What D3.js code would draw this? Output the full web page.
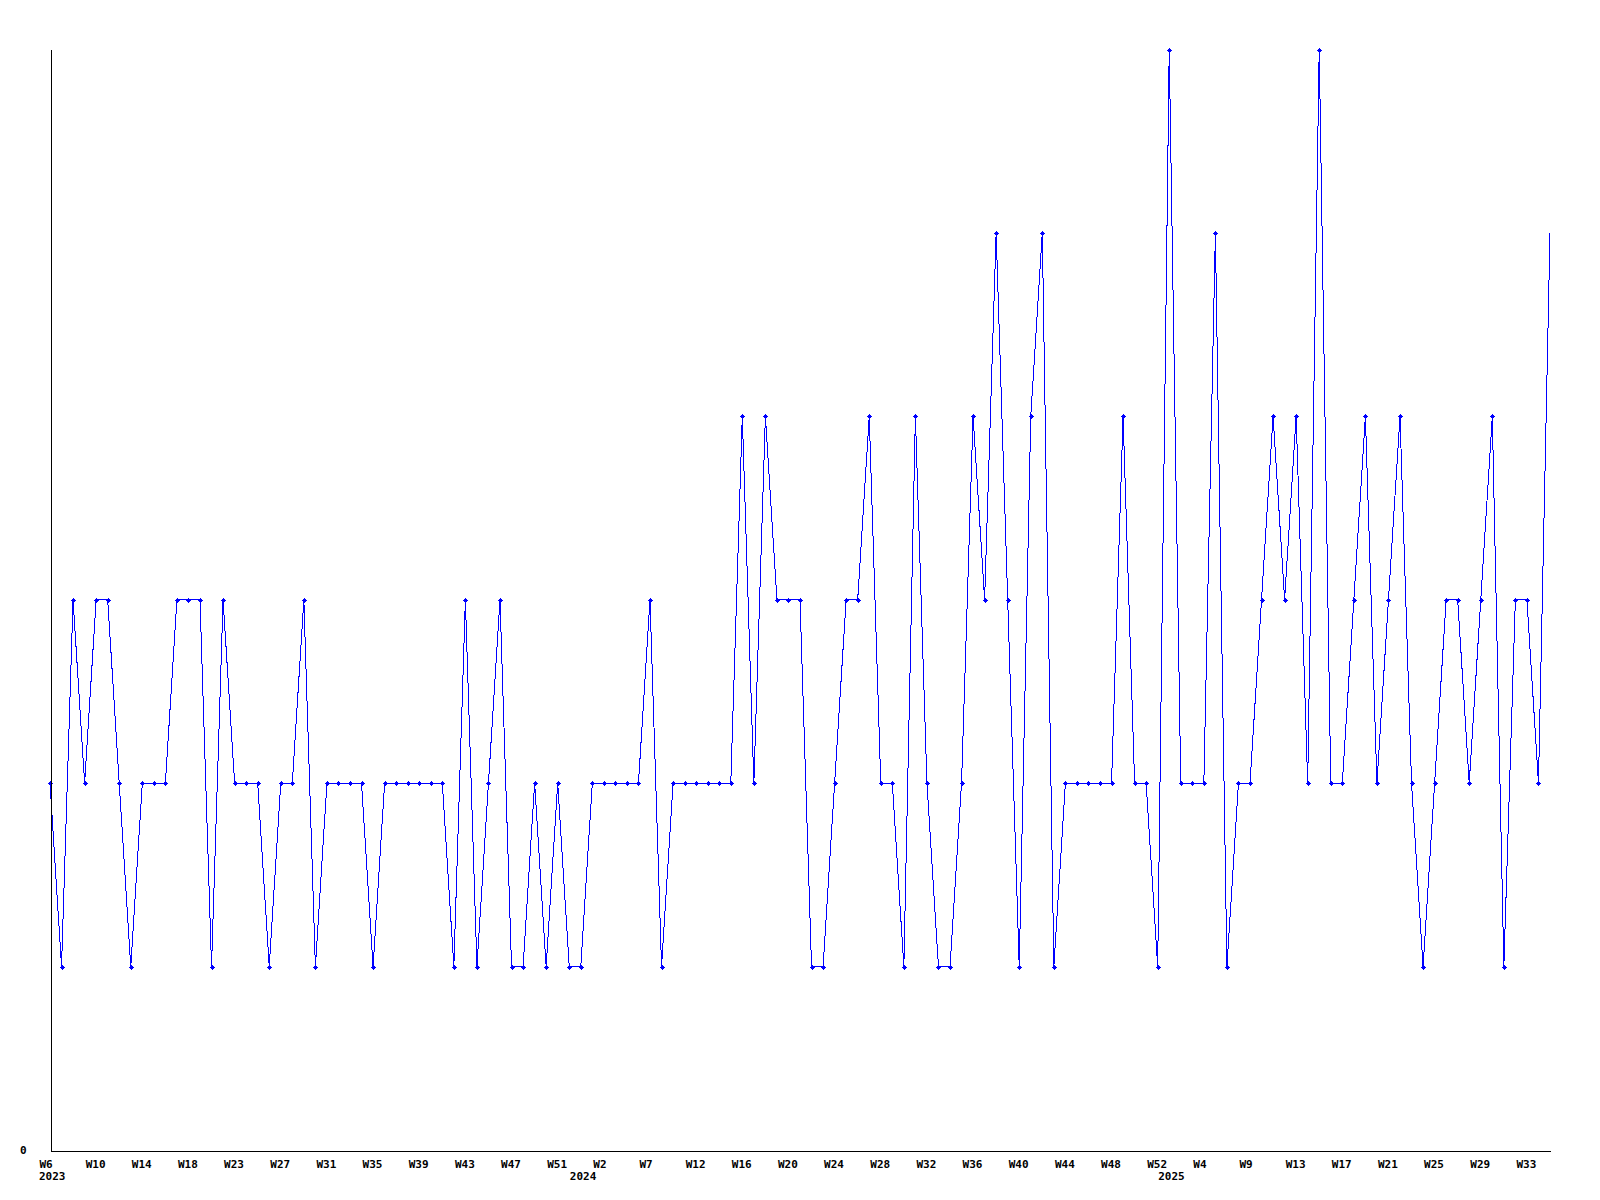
<!DOCTYPE html>
<html>
<head>
<meta charset="utf-8">
<script src="https://cdn.jsdelivr.net/npm/d3@7"></script>
<style>
  html, body { margin: 0; padding: 0; background: #fff; }
  svg { display: block; }
  text { font-family: "DejaVu Sans Mono", "Liberation Mono", monospace; font-weight: bold; font-size: 11px; fill: #000; }
</style>
</head>
<body>
<svg id="chart" width="1600" height="1200"></svg>
<script>
// ---- data ----
const weeks2023 = [6,7,8,9,10,11,12,13,14,15,16,17,18,19,21,22,23,24,25,26,27,28,29,30,31,32,33,34,35,36,37,38,39,40,41,42,43,44,45,46,47,48,49,50,51,52];
const weeks2024 = [0,1,2,3,4,5,7,8,9,11,12,13,14,15,16,17,18,19,20,21,22,23,24,25,26,27,28,29,30,31,32,33,34,35,36,37,38,39,40,41,42,43,44,45,46,47,48,49,50,51,52];
const weeks2025 = [1,2,3,4,5,6,8,9,10,11,12,13,14,15,16,17,18,19,20,21,22,23,24,25,26,27,28,29,30,31,32,33,34,35];
const values = [
  2,1,3,2,3,3,2,1,2,2,
  2,3,3,3,1,3,2,2,2,1,
  2,2,3,1,2,2,2,2,1,2,
  2,2,2,2,2,1,3,1,2,3,
  1,1,2,1,2,1,1,2,2,2,
  2,2,3,1,2,2,2,2,2,2,
  4,2,4,3,3,3,1,1,2,3,
  3,4,2,2,1,4,2,1,1,2,
  4,3,5,3,1,4,5,1,2,2,
  2,2,2,4,2,2,1,6,2,2,
  2,5,1,2,2,3,4,3,4,2,
  6,2,2,3,4,2,3,4,2,1,
  2,3,3,2,3,4,1,3,3,2,
  5
];
const yTickValues = [0];
const labelEvery = 4;

// ---- build categories ----
const categories = [];
[[2023, weeks2023], [2024, weeks2024], [2025, weeks2025]].forEach(([yr, wks]) => {
  wks.forEach((w, i) => categories.push({ key: yr + "-W" + w, week: "W" + w, year: yr, firstOfYear: i === 0 }));
});
const data = categories.map((c, i) => ({ key: c.key, value: values[i] }));

// ---- layout ----
const svg = d3.select("#chart");
const x = d3.scalePoint().domain(categories.map(c => c.key)).range([50, 1550]);
const y = d3.scaleLinear().domain([0, 6]).range([1150, 49.5]);

// line
const line = d3.line().x(d => x(d.key)).y(d => y(d.value));
svg.append("path")
  .datum(data)
  .attr("d", line)
  .attr("fill", "none")
  .attr("stroke", "#0000ff")
  .attr("stroke-width", 1)
  .attr("shape-rendering", "crispEdges");

// markers (last point not marked, as in the reference)
const markerPath = "M-2.5,-0.5h5v1h-5z M-0.5,-2.5h1v5h-1z M-1.5,-1.5h3v3h-3z";
svg.append("g").selectAll("path")
  .data(data.slice(0, data.length - 1))
  .join("path")
  .attr("d", markerPath)
  .attr("transform", d => `translate(${Math.round(x(d.key)) + 0.5},${Math.round(y(d.value)) + 0.5})`)
  .attr("fill", "#0000ff")
  .attr("shape-rendering", "crispEdges");

// x axis
const tickKeys = categories.filter((c, i) => i % labelEvery === 0).map(c => c.key);
const weekOf = new Map(categories.map(c => [c.key, c.week]));
const xAxis = d3.axisBottom(x).tickValues(tickKeys).tickFormat(k => weekOf.get(k)).tickSize(0).tickSizeOuter(0);
const gx = svg.append("g").attr("transform", "translate(0,1150.5)").call(xAxis);
gx.select(".domain").attr("stroke", "#000").attr("shape-rendering", "crispEdges");
gx.selectAll(".tick text")
  .attr("text-anchor", "start")
  .attr("dx", -11)
  .attr("dy", 0)
  .attr("y", 17)
  .style("font-family", '"DejaVu Sans Mono", monospace')
  .style("font-weight", "bold")
  .style("font-size", "11px")
  .attr("fill", "#000");

// year labels
svg.append("g").selectAll("text")
  .data(categories.filter(c => c.firstOfYear))
  .join("text")
  .attr("x", d => x(d.key) - 11)
  .attr("y", 1180)
  .text(d => d.year);

// y axis
const yAxis = d3.axisLeft(y).tickValues(yTickValues).tickFormat(d3.format("d")).tickSize(0).tickSizeOuter(0);
const gy = svg.append("g").attr("transform", "translate(50.5,0)").call(yAxis);
gy.select(".domain").attr("stroke", "#000").attr("shape-rendering", "crispEdges");
gy.selectAll(".tick text")
  .attr("x", -24)
  .attr("dy", "0.35em")
  .attr("text-anchor", "end")
  .style("font-family", '"DejaVu Sans Mono", monospace')
  .style("font-weight", "bold")
  .style("font-size", "11px")
  .attr("fill", "#000");
</script>
</body>
</html>
